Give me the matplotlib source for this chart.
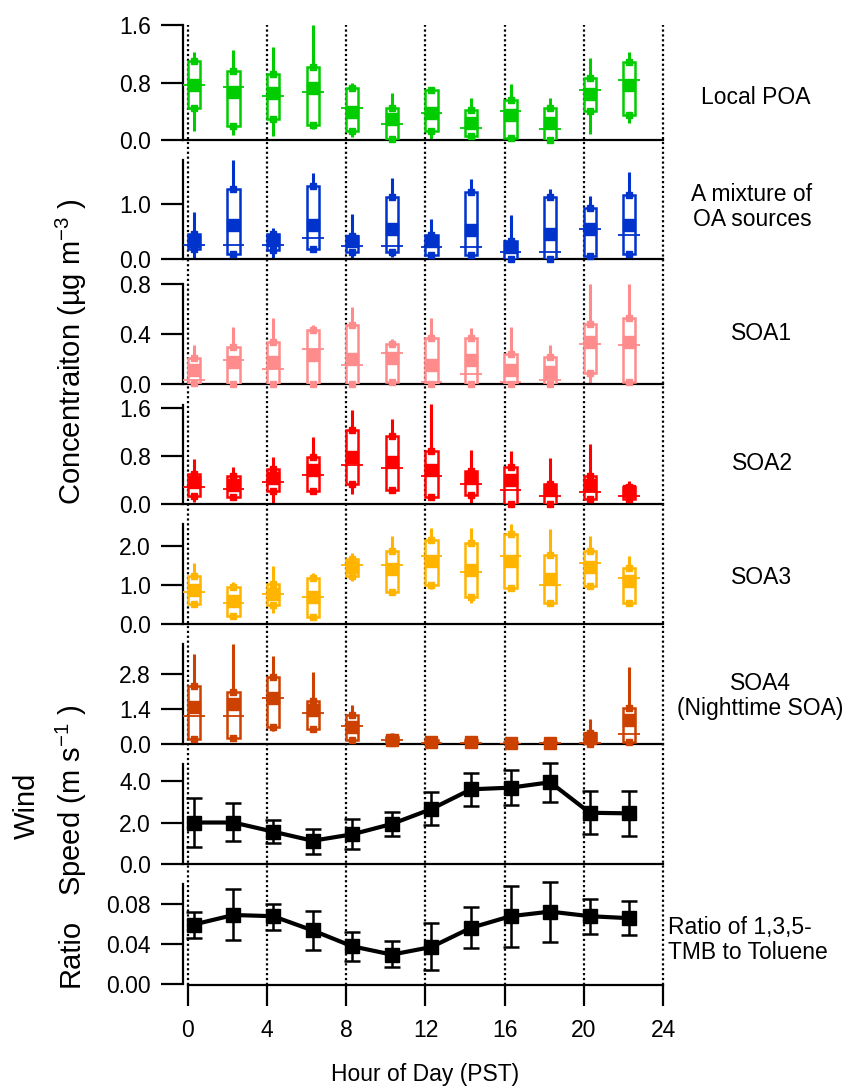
import matplotlib
matplotlib.use("Agg")
import matplotlib.pyplot as plt
import numpy as np

plt.rcParams["font.family"] = ["Liberation Sans", "DejaVu Sans"]
plt.rcParams["mathtext.fontset"] = "custom"
plt.rcParams["mathtext.rm"] = "Liberation Sans"
plt.rcParams["mathtext.default"] = "regular"

# ---- data (hour of day, PST) ----
hours = [0.3, 2.3, 4.3, 6.3, 8.3, 10.3, 12.3, 14.3, 16.3, 18.3, 20.3, 22.3]

# box stats per factor: whisker low, box low, median, mean, box high, whisker high
poa_wlo = [0.13, 0.07, 0.05, 0.15, 0.04, 0.00, 0.02, 0.04, 0.01, 0.00, 0.09, 0.24]
poa_q1 = [0.45, 0.20, 0.29, 0.21, 0.13, 0.02, 0.13, 0.06, 0.03, 0.00, 0.41, 0.35]
poa_med = [0.77, 0.74, 0.61, 0.67, 0.45, 0.22, 0.37, 0.17, 0.40, 0.15, 0.70, 0.83]
poa_mean = [0.77, 0.67, 0.66, 0.72, 0.39, 0.29, 0.37, 0.24, 0.35, 0.23, 0.64, 0.76]
poa_q3 = [1.10, 0.96, 0.92, 1.02, 0.72, 0.45, 0.70, 0.42, 0.56, 0.45, 0.86, 1.08]
poa_whi = [1.23, 1.25, 1.30, 1.60, 0.79, 0.65, 0.74, 0.59, 0.78, 0.59, 1.14, 1.22]

mix_wlo = [0.00, 0.03, 0.00, 0.15, 0.00, 0.03, 0.03, 0.03, 0.00, 0.00, 0.06, 0.07]
mix_q1 = [0.18, 0.09, 0.16, 0.19, 0.13, 0.13, 0.07, 0.07, 0.00, 0.00, 0.06, 0.09]
mix_med = [0.25, 0.26, 0.25, 0.39, 0.24, 0.23, 0.21, 0.21, 0.13, 0.13, 0.54, 0.44]
mix_mean = [0.33, 0.62, 0.35, 0.62, 0.32, 0.55, 0.33, 0.53, 0.22, 0.45, 0.54, 0.62]
mix_q3 = [0.45, 1.28, 0.45, 1.33, 0.42, 1.12, 0.44, 1.22, 0.32, 1.12, 0.92, 1.16]
mix_whi = [0.86, 1.80, 0.56, 1.57, 0.81, 1.47, 0.73, 1.45, 0.80, 1.28, 1.15, 1.59]

soa1_wlo = [0.00, 0.00, 0.00, 0.00, 0.00, 0.00, 0.00, 0.00, 0.00, 0.00, 0.00, 0.00]
soa1_q1 = [0.01, 0.00, 0.00, 0.00, 0.00, 0.02, 0.00, 0.00, 0.00, 0.00, 0.09, 0.02]
soa1_med = [0.03, 0.19, 0.12, 0.28, 0.15, 0.25, 0.02, 0.08, 0.02, 0.03, 0.32, 0.31]
soa1_mean = [0.11, 0.18, 0.18, 0.23, 0.20, 0.21, 0.15, 0.19, 0.11, 0.10, 0.34, 0.34]
soa1_q3 = [0.21, 0.30, 0.34, 0.43, 0.47, 0.32, 0.37, 0.37, 0.24, 0.22, 0.48, 0.53]
soa1_whi = [0.31, 0.46, 0.53, 0.47, 0.62, 0.36, 0.53, 0.45, 0.46, 0.31, 0.80, 0.80]

soa2_wlo = [0.03, 0.11, 0.00, 0.17, 0.17, 0.18, 0.06, 0.00, 0.00, 0.00, 0.00, 0.04]
soa2_q1 = [0.13, 0.12, 0.22, 0.22, 0.33, 0.23, 0.11, 0.15, 0.00, 0.00, 0.09, 0.09]
soa2_med = [0.28, 0.25, 0.37, 0.48, 0.65, 0.60, 0.47, 0.34, 0.24, 0.14, 0.20, 0.14]
soa2_mean = [0.36, 0.32, 0.43, 0.57, 0.78, 0.70, 0.57, 0.43, 0.40, 0.23, 0.32, 0.21]
soa2_q3 = [0.50, 0.46, 0.58, 0.79, 1.24, 1.13, 0.88, 0.55, 0.61, 0.33, 0.46, 0.29]
soa2_whi = [0.75, 0.61, 0.78, 1.11, 1.57, 1.42, 1.66, 0.90, 0.89, 0.76, 1.00, 0.39]

soa3_wlo = [0.43, 0.19, 0.27, 0.15, 1.11, 0.79, 0.90, 0.53, 0.90, 0.50, 0.90, 0.51]
soa3_q1 = [0.51, 0.21, 0.49, 0.17, 1.24, 0.81, 1.00, 0.68, 0.91, 0.53, 0.97, 0.55]
soa3_med = [0.83, 0.54, 0.76, 0.68, 1.51, 1.51, 1.73, 1.32, 1.74, 1.00, 1.57, 1.19]
soa3_mean = [0.87, 0.59, 0.76, 0.68, 1.45, 1.41, 1.60, 1.37, 1.62, 1.15, 1.47, 1.10]
soa3_q3 = [1.24, 0.96, 1.03, 1.19, 1.67, 1.87, 2.15, 2.07, 2.30, 1.77, 1.87, 1.44]
soa3_whi = [1.56, 1.07, 1.49, 1.30, 1.81, 2.26, 2.45, 2.45, 2.56, 2.44, 2.26, 1.73]

soa4_wlo = [0.16, 0.23, 0.52, 0.56, 0.00, 0.03, 0.00, 0.00, 0.00, 0.00, 0.00, 0.00]
soa4_q1 = [0.20, 0.25, 0.70, 0.60, 0.16, 0.05, 0.03, 0.03, 0.00, 0.00, 0.00, 0.09]
soa4_med = [1.14, 1.14, 1.86, 1.23, 0.72, 0.16, 0.06, 0.06, 0.02, 0.03, 0.05, 0.39]
soa4_mean = [1.50, 1.60, 1.86, 1.37, 0.70, 0.16, 0.08, 0.09, 0.03, 0.05, 0.23, 0.97]
soa4_q3 = [2.33, 2.08, 2.67, 1.74, 1.17, 0.28, 0.15, 0.15, 0.08, 0.09, 0.46, 1.46]
soa4_whi = [3.60, 4.02, 3.51, 2.87, 1.57, 0.45, 0.20, 0.20, 0.12, 0.14, 0.99, 3.07]

wind_mean = [2.00, 2.00, 1.56, 1.12, 1.43, 1.93, 2.65, 3.60, 3.68, 3.94, 2.47, 2.44]
wind_lo = [0.84, 1.12, 1.00, 0.48, 0.72, 1.37, 1.88, 2.81, 2.84, 3.00, 1.45, 1.37]
wind_hi = [3.20, 2.92, 2.12, 1.70, 2.15, 2.49, 3.45, 4.37, 4.53, 4.85, 3.52, 3.52]

ratio_mean = [0.0595, 0.069, 0.0678, 0.0536, 0.0377, 0.0294, 0.037, 0.0562, 0.0678, 0.0724, 0.0678, 0.0658]
ratio_lo = [0.046, 0.0436, 0.054, 0.0337, 0.0231, 0.0172, 0.0145, 0.036, 0.037, 0.042, 0.050, 0.0486]
ratio_hi = [0.0724, 0.095, 0.080, 0.0727, 0.0519, 0.0426, 0.0608, 0.0774, 0.098, 0.1025, 0.085, 0.0833]

guide_hours = [0, 4, 8, 12, 16, 20, 24]
xtick_hours = [0, 4, 8, 12, 16, 20, 24]

W, H = 857, 1091
fig = plt.figure(figsize=(W / 100, H / 100), dpi=100)

X0, X1 = 183, 663
XLIM = (-0.25, 24)


def pos(top, bottom):
    return [X0 / W, 1 - bottom / H, (X1 - X0) / W, (bottom - top) / H]


def style_axis(ax, ylim, yticks, fmt, last=False):
    ax.set_xlim(*XLIM)
    ax.set_ylim(*ylim)
    ax.patch.set_alpha(0)
    for s in ["top", "right"]:
        ax.spines[s].set_visible(False)
    ax.spines["left"].set_linewidth(1.6)
    ax.spines["bottom"].set_linewidth(1.6)
    ax.set_yticks(yticks)
    ax.set_yticklabels([fmt.format(v) for v in yticks])
    ax.tick_params(axis="y", direction="out", length=16, width=1.6, labelsize=16.5, pad=7)
    if last:
        ax.spines["bottom"].set_bounds(0, 24)
        ax.spines["bottom"].set_position(("outward", 1))
        ax.set_xticks(xtick_hours)
        ax.tick_params(axis="x", direction="out", length=15, width=1.6, labelsize=16.5, pad=9)
    else:
        ax.tick_params(axis="x", bottom=False, labelbottom=False)


def box_panel(ax, color, wlo, q1, med, mean, q3, whi):
    ax.vlines(hours, wlo, whi, color=color, lw=2.2, zorder=2, clip_on=False)
    hts = np.array(q3) - np.array(q1)
    ax.bar(hours, hts, bottom=q1, width=0.62, facecolor="white",
           edgecolor=color, lw=1.8, zorder=3)
    ax.hlines(med, np.array(hours) - 0.55, np.array(hours) + 0.55,
              color=color, lw=1.3, zorder=4)
    ax.plot(hours, mean, "s", color=color, ms=9, zorder=5, clip_on=False)
    ax.plot(hours, q1, "s", color=color, ms=4, zorder=5, clip_on=False)
    ax.plot(hours, q3, "s", color=color, ms=4, zorder=5, clip_on=False)


panels = [
    (25, 140), (160, 259), (284, 384), (405, 504),
    (524, 624), (644, 744), (764, 864), (884, 984),
]

# dotted hour guides across all panels
gax = fig.add_axes(pos(25, 985))
gax.set_xlim(*XLIM)
gax.set_ylim(0, 1)
gax.axis("off")
gax.vlines(guide_hours, 0, 1, colors="black", lw=1.6, linestyles=(0, (1, 1.2)), clip_on=False)

axs = [fig.add_axes(pos(t, b)) for t, b in panels]

box_panel(axs[0], "#00CC00", poa_wlo, poa_q1, poa_med, poa_mean, poa_q3, poa_whi)
style_axis(axs[0], (0, 1.6), [0, 0.8, 1.6], "{:.1f}")

box_panel(axs[1], "#0033CC", mix_wlo, mix_q1, mix_med, mix_mean, mix_q3, mix_whi)
style_axis(axs[1], (0, 1.8), [0, 1.0], "{:.1f}")

box_panel(axs[2], "#FF8C8C", soa1_wlo, soa1_q1, soa1_med, soa1_mean, soa1_q3, soa1_whi)
style_axis(axs[2], (0, 0.8), [0, 0.4, 0.8], "{:.1f}")

box_panel(axs[3], "#FF0000", soa2_wlo, soa2_q1, soa2_med, soa2_mean, soa2_q3, soa2_whi)
style_axis(axs[3], (0, 1.65), [0, 0.8, 1.6], "{:.1f}")

box_panel(axs[4], "#FFB400", soa3_wlo, soa3_q1, soa3_med, soa3_mean, soa3_q3, soa3_whi)
style_axis(axs[4], (0, 2.56), [0, 1.0, 2.0], "{:.1f}")

box_panel(axs[5], "#CC4000", soa4_wlo, soa4_q1, soa4_med, soa4_mean, soa4_q3, soa4_whi)
style_axis(axs[5], (0, 4.0), [0, 1.4, 2.8], "{:.1f}")

w_err = [np.array(wind_mean) - np.array(wind_lo), np.array(wind_hi) - np.array(wind_mean)]
axs[6].errorbar(hours, wind_mean, yerr=w_err, fmt="-s", color="black", lw=3, ms=10,
                elinewidth=1.8, capsize=6, capthick=1.8, clip_on=False)
style_axis(axs[6], (0, 4.82), [0, 2.0, 4.0], "{:.1f}")

r_err = [np.array(ratio_mean) - np.array(ratio_lo), np.array(ratio_hi) - np.array(ratio_mean)]
axs[7].errorbar(hours, ratio_mean, yerr=r_err, fmt="-s", color="black", lw=3, ms=10,
                elinewidth=1.8, capsize=6, capthick=1.8, clip_on=False)
style_axis(axs[7], (0, 0.1), [0, 0.04, 0.08], "{:.2f}", last=True)


def ftext(x, y, s, **kw):
    fig.text(x / W, 1 - y / H, s, **kw)


# panel names on the right
rk = dict(fontsize=16.5, ha="center", va="center", linespacing=1.15)
ftext(756, 97, "Local POA", **rk)
ftext(752, 207, "A mixture of\nOA sources", **rk)
ftext(762, 333, "SOA1", **rk)
ftext(762, 464, "SOA2", **rk)
ftext(762, 578, "SOA3", **rk)
ftext(760, 696, "SOA4\n(Nighttime SOA)", **rk)
ftext(668, 940, "Ratio of 1,3,5-\nTMB to Toluene", fontsize=16.5, ha="left", va="center",
      linespacing=1.15)

# axis titles
ftext(71, 352, "Concentraiton (µg m$^{-3}$ )", fontsize=21, rotation=90, ha="center", va="center")
ftext(27, 806, "Wind", fontsize=21, rotation=90, ha="center", va="center")
ftext(71, 800, "Speed (m s$^{-1}$ )", fontsize=21, rotation=90, ha="center", va="center")
ftext(71, 953, "Ratio", fontsize=21, rotation=90, ha="center", va="center")
ftext(425, 1075, "Hour of Day (PST)", fontsize=16.5, ha="center", va="center")

fig.savefig("out.png", dpi=100)
